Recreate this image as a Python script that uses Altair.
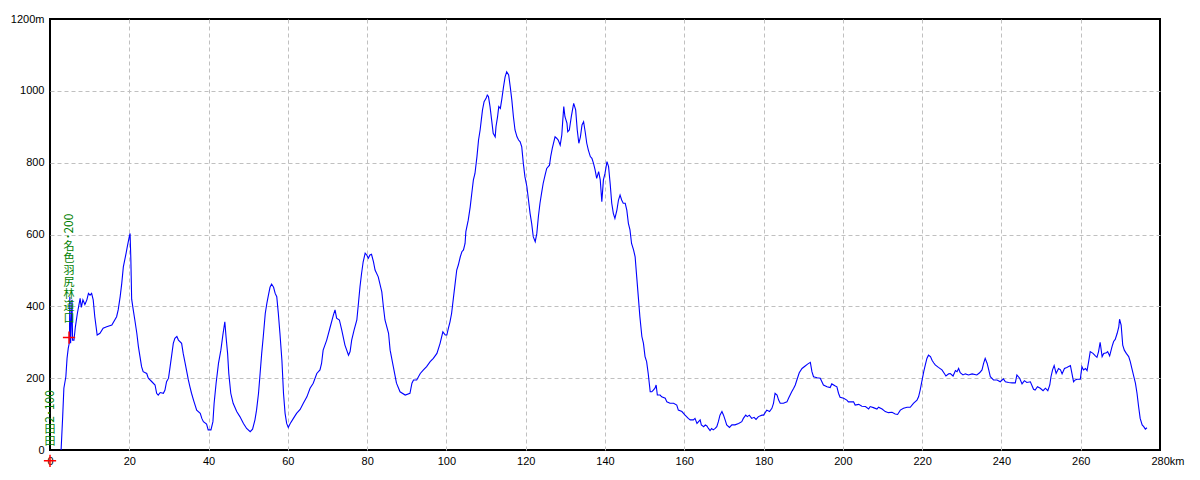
import altair as alt
import pandas as pd

# Elevation profile: distance (km) and elevation (m)
km = [2.8, 3.2, 3.5, 4.0, 4.3, 4.6, 4.9, 5.0, 5.2, 5.55, 5.7, 6.05, 6.4, 6.9, 7.6, 7.9, 8.3, 8.8, 9.3, 9.7,
      10.1, 10.5, 10.9, 11.3, 11.9, 12.6, 13.4, 14.3, 15.6, 16.8, 17.2, 17.7, 18.1, 18.5, 19.2, 19.5, 20.0, 20.2, 20.4, 20.6,
      21.0, 21.4, 21.9, 22.3, 22.7, 23.1, 23.5, 24.4, 24.8, 25.7, 26.5, 26.9, 27.3, 27.8, 28.6, 29.0, 29.4, 29.9, 30.3, 30.7,
      31.1, 31.5, 32.0, 32.4, 33.2, 33.6, 34.1, 34.5, 34.9, 35.3, 35.7, 36.2, 37.0, 37.9, 38.3, 38.7, 39.5, 39.9, 40.6, 41.1,
      41.4, 41.9, 42.5, 43.1, 43.6, 44.1, 44.4, 44.8, 45.1, 45.6, 46.2, 47.1, 47.9, 48.8, 49.6, 50.5, 51.1, 51.7, 52.1, 52.6,
      53.0, 53.4, 53.8, 54.3, 54.7, 55.1, 55.5, 55.9, 56.4, 56.8, 57.2, 57.6, 58.0, 58.5, 58.9, 59.3, 59.7, 60.1, 60.6, 61.4,
      62.2, 63.1, 63.9, 64.8, 65.6, 66.4, 67.3, 68.1, 68.5, 68.9, 69.8, 70.6, 71.5, 71.9, 72.3, 73.0, 73.6, 74.4, 75.3, 75.7,
      76.1, 76.7, 77.4, 77.8, 78.2, 78.6, 79.0, 79.5, 79.9, 80.3, 80.7, 81.1, 81.6, 82.0, 82.8, 83.7, 84.1, 84.5, 85.4, 85.8,
      86.6, 87.4, 88.3, 89.6, 90.8, 91.3, 91.7, 92.5, 93.4, 94.2, 95.0, 95.9, 96.7, 97.6, 98.4, 99.1, 99.7, 100.1, 100.5, 100.9,
      101.3, 101.8, 102.2, 102.6, 103.0, 103.5, 103.9, 104.3, 104.7, 104.9, 105.5, 106.0, 106.4, 106.8, 107.2, 107.7, 108.1, 108.5, 108.8, 109.1,
      109.5, 110.0, 110.3, 110.6, 111.0, 111.4, 111.8, 112.3, 112.5, 112.9, 113.2, 113.6, 114.0, 114.4, 114.8, 115.2, 115.7, 116.1, 116.5, 116.9,
      117.3, 117.8, 118.2, 118.6, 119.0, 119.4, 119.8, 120.3, 120.7, 121.1, 121.5, 121.9, 122.4, 122.8, 123.2, 123.6, 124.0, 124.4, 124.9, 125.3,
      126.0, 126.3, 126.7, 127.0, 127.4, 127.8, 128.2, 128.7, 129.1, 129.3, 129.6, 129.9, 130.4, 130.6, 131.0, 131.5, 131.8, 132.1, 132.6, 133.0,
      133.4, 133.8, 134.2, 134.6, 135.0, 135.4, 135.8, 136.3, 136.7, 137.1, 137.5, 137.9, 138.4, 138.8, 139.2, 139.6, 140.0, 140.5, 140.9, 141.3,
      141.7, 142.1, 142.5, 143.0, 143.4, 143.8, 144.2, 144.6, 145.1, 145.5, 145.9, 146.3, 146.7, 147.2, 147.6, 148.0, 148.4, 148.8, 149.3, 149.7,
      150.1, 150.5, 150.9, 151.4, 151.8, 152.2, 152.6, 152.9, 153.2, 153.9, 154.3, 155.2, 155.6, 156.4, 157.3, 158.1, 158.5, 159.4, 160.2, 161.0,
      161.5, 162.3, 162.7, 163.2, 163.6, 164.0, 164.3, 164.9, 165.3, 165.7, 166.1, 166.5, 166.9, 167.3, 167.8, 168.2, 168.6, 169.0, 169.5, 169.9,
      170.3, 170.7, 171.4, 172.0, 172.8, 173.7, 174.5, 174.9, 175.5, 175.9, 176.4, 177.0, 177.6, 178.1, 178.7, 179.6, 180.0, 180.8, 181.5, 182.1,
      182.5, 182.9, 183.4, 183.8, 184.2, 185.0, 185.9, 186.3, 186.7, 187.1, 187.6, 188.0, 188.4, 189.0, 189.7, 190.5, 191.1, 191.8, 192.2, 192.6,
      193.5, 194.3, 195.1, 196.0, 196.8, 197.2, 198.1, 198.5, 198.9, 199.3, 200.2, 201.0, 201.4, 202.7, 203.1, 204.0, 204.8, 205.7, 206.5, 206.9,
      207.7, 208.6, 209.0, 209.9, 210.7, 211.5, 212.4, 213.2, 213.8, 214.5, 215.3, 216.2, 217.0, 217.8, 218.7, 219.1, 219.5, 220.0, 220.4, 220.8,
      221.2, 221.6, 222.1, 222.5, 222.9, 223.3, 224.1, 225.0, 225.6, 226.0, 226.7, 227.1, 227.8, 228.4, 228.8, 229.2, 229.6, 230.3, 230.9, 231.7,
      232.6, 233.8, 234.5, 235.1, 235.5, 235.9, 236.4, 236.8, 237.2, 238.0, 238.9, 239.7, 240.5, 241.0, 241.8, 242.7, 243.5, 243.9, 244.6, 245.2,
      245.8, 246.4, 247.3, 248.1, 248.5, 249.1, 249.8, 250.5, 251.1, 251.7, 252.2, 252.5, 252.9, 253.3, 253.8, 254.4, 254.9, 255.3, 255.9, 256.5,
      257.4, 258.2, 258.6, 259.1, 259.9, 260.3, 260.7, 261.2, 261.6, 262.0, 262.4, 263.1, 263.7, 264.1, 264.5, 264.9, 265.4, 265.8, 266.5, 266.8,
      267.3, 267.9, 268.3, 268.7, 269.2, 269.6, 269.8, 270.2, 270.6, 271.0, 271.5, 272.1, 272.5, 272.9, 273.4, 273.8, 274.2, 274.6, 275.0, 275.5,
      275.9, 276.3, 276.7]
elev = [0, 93, 172, 204, 255, 283, 300, 427, 297, 418, 306, 306, 343, 380, 422, 397, 418, 405, 418, 436,
        431, 436, 418, 371, 320, 325, 339, 343, 348, 371, 390, 427, 464, 510, 548, 566, 594, 603, 529, 420,
        390, 362, 325, 288, 260, 232, 218, 213, 200, 190, 181, 158, 153, 160, 158, 167, 190, 200, 232, 264,
        297, 311, 316, 306, 297, 269, 241, 218, 195, 176, 158, 139, 111, 102, 88, 79, 72, 56, 56, 79,
        130, 186, 241, 278, 320, 357, 316, 269, 213, 158, 130, 107, 93, 74, 60, 51, 58, 84, 111, 158,
        213, 269, 316, 380, 408, 431, 453, 462, 453, 436, 427, 380, 325, 250, 158, 102, 74, 63, 74, 88,
        102, 113, 130, 148, 172, 186, 213, 223, 241, 278, 306, 339, 376, 390, 367, 362, 334, 292, 264, 274,
        306, 334, 362, 408, 455, 492, 524, 548, 543, 534, 543, 545, 524, 501, 482, 440, 399, 362, 325, 278,
        232, 186, 162, 153, 158, 186, 195, 195, 213, 223, 232, 246, 255, 269, 297, 329, 320, 320, 339, 357,
        380, 427, 464, 501, 515, 538, 552, 557, 575, 608, 640, 677, 715, 752, 770, 817, 863, 891, 919, 947,
        970, 979, 988, 984, 956, 919, 882, 872, 900, 928, 956, 951, 979, 1011, 1039, 1053, 1044, 1011, 974, 928,
        891, 872, 863, 858, 844, 798, 761, 733, 696, 659, 631, 594, 580, 603, 650, 687, 715, 742, 766, 784,
        793, 817, 840, 854, 872, 868, 863, 849, 877, 910, 956, 928, 910, 886, 891, 928, 947, 965, 947, 891,
        854, 872, 905, 914, 886, 854, 835, 817, 812, 798, 780, 756, 775, 752, 691, 752, 770, 803, 789, 742,
        687, 659, 645, 668, 696, 710, 696, 687, 687, 668, 631, 613, 575, 557, 538, 482, 427, 371, 316, 297,
        260, 246, 213, 162, 162, 167, 172, 181, 153, 153, 148, 144, 134, 130, 130, 125, 111, 107, 97, 88,
        84, 84, 88, 74, 79, 84, 70, 65, 70, 67, 60, 54, 60, 56, 60, 65, 79, 97, 107, 97,
        84, 70, 63, 70, 70, 74, 79, 88, 97, 93, 97, 88, 91, 85, 93, 97, 97, 111, 107, 116,
        130, 158, 153, 139, 130, 130, 134, 144, 153, 162, 172, 181, 195, 215, 227, 234, 239, 244, 218, 204,
        201, 200, 181, 176, 174, 184, 178, 176, 158, 147, 144, 139, 134, 134, 125, 127, 122, 121, 114, 121,
        118, 114, 119, 114, 107, 104, 105, 100, 99, 111, 116, 119, 119, 130, 139, 148, 167, 195, 218, 237,
        255, 264, 260, 250, 243, 237, 230, 223, 213, 206, 212, 213, 206, 221, 218, 227, 215, 209, 212, 209,
        212, 209, 215, 223, 241, 255, 241, 223, 204, 195, 195, 190, 198, 190, 188, 187, 187, 209, 200, 184,
        193, 188, 190, 169, 167, 176, 172, 165, 172, 165, 181, 204, 223, 235, 213, 227, 223, 212, 227, 230,
        235, 190, 195, 197, 197, 232, 223, 227, 221, 246, 274, 269, 262, 258, 274, 300, 260, 269, 271, 274,
        262, 288, 302, 308, 325, 343, 364, 348, 292, 278, 269, 260, 246, 227, 204, 186, 158, 121, 88, 70,
        65, 58, 62]

# Waypoints
wp_km = [0.0, 4.8]
wp_elev = [-30, 313]
wp_name = ["田田", "名色羽尻林道口"]
wp_num = ["2･100", "･200"]

x_ticks = list(range(0, 281, 20))
y_ticks = list(range(0, 1201, 200))

prof = pd.DataFrame({"km": km, "elev": elev})
wp = pd.DataFrame({
    "km": wp_km,
    "elev": wp_elev,
    "name": ["\n".join(n) for n in wp_name],
    "num": wp_num,
})

AXFONT = "Liberation Sans"
grid_common = dict(
    grid=True, gridColor="#c0c0c0", gridDash=[4, 3], gridWidth=1,
    ticks=False, domain=False, title=None, format="d",
    labelFont=AXFONT, labelFontSize=11, labelColor="#000000",
    labelOverlap=False, labelBound=False, labelFlush=False,
)

x_axis = alt.Axis(
    values=x_ticks, labelPadding=5,
    labelExpr="datum.value == 280 ? '280km' : datum.label",
    labelAlign={"condition": {"test": "datum.value == 280", "value": "left"}, "value": "center"},
    labelOffset={"condition": {"test": "datum.value == 280", "value": -9}, "value": 0},
    gridOpacity={"condition": {"test": "datum.value == 0 || datum.value == 280", "value": 0}, "value": 1},
    **grid_common,
)
y_axis = alt.Axis(
    values=y_ticks, labelPadding=6,
    labelExpr="datum.value == 1200 ? '1200m' : datum.label",
    gridOpacity={"condition": {"test": "datum.value == 0 || datum.value == 1200", "value": 0}, "value": 1},
    **grid_common,
)

x_enc = alt.X("km:Q", scale=alt.Scale(domain=[0, 280], nice=False, zero=False), axis=x_axis)
y_enc = alt.Y("elev:Q", scale=alt.Scale(domain=[0, 1200], nice=False, zero=False), axis=y_axis)

line = alt.Chart(prof).mark_line(color="#0000ff", strokeWidth=1.1).encode(
    x=x_enc, y=y_enc, order="km:Q"
)

cross = alt.Chart(wp).mark_point(
    shape="M-1,0L1,0M0,-1L0,1", size=150, filled=False, stroke="#ff0000",
    strokeWidth=1.5, opacity=1
).encode(x=x_enc, y=y_enc)

GAP = 13
LH = 12
layers = [line]
for i, name in enumerate(wp_name):
    sub = wp.iloc[[i]]
    block = GAP + LH * len(name)
    names = alt.Chart(sub).mark_text(
        font="Noto Sans CJK JP", fontSize=11, lineHeight=LH, lineBreak="\n",
        align="center", baseline="top", dy=-block, color="#008000"
    ).encode(x=x_enc, y=y_enc, text="name:N")
    nums = alt.Chart(sub).mark_text(
        font="Noto Sans CJK JP", fontSize=12, angle=270,
        align="left", baseline="middle", dx=block + 1,
        color="#008000"
    ).encode(x=x_enc, y=y_enc, text="num:N")
    layers += [names, nums]
layers.append(cross)

chart = alt.layer(*layers).properties(
    width=1110, height=431,
    padding={"left": 42, "top": 11, "right": 28, "bottom": 22},
    autosize=alt.AutoSizeParams(type="none"),
    background="white",
).configure_view(stroke="#000000", strokeWidth=2)

chart.save("out.html", embed_options={"renderer": "svg", "actions": False})
